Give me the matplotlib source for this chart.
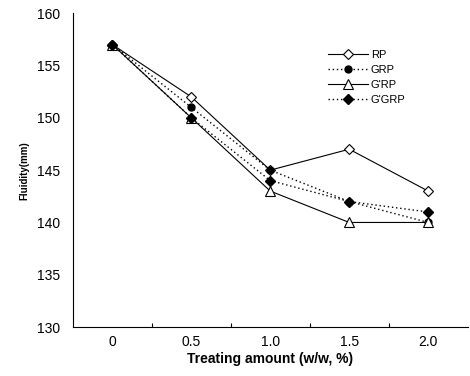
import matplotlib
matplotlib.use("Agg")
import matplotlib.pyplot as plt

categories = ["0", "0.5", "1.0", "1.5", "2.0"]
rp = [157, 152, 145, 147, 143]
grp = [157, 151, 145, 142, 140]
gprp = [157, 150, 143, 140, 140]
gpgrp = [157, 150, 144, 142, 141]

plt.rcParams['font.family'] = ['Liberation Sans', 'DejaVu Sans']
fig = plt.figure(figsize=(4.7, 3.76), dpi=100)
ax = fig.add_axes([0.155, 0.13, 0.84, 0.835])
x = list(range(len(categories)))
dot = (0, (1, 2))
ax.plot(x, rp, '-', color='black', lw=0.8, marker='D', ms=5, mfc='white', mec='black', mew=0.8, label='RP')
ax.plot(x, grp, linestyle=dot, color='black', lw=1.0, marker='o', ms=5, mfc='black', mec='black', label='GRP')
ax.plot(x, gprp, '-', color='black', lw=0.8, marker='^', ms=7, mfc='white', mec='black', mew=0.8, label="G'RP")
ax.plot(x, gpgrp, linestyle=dot, color='black', lw=1.0, marker='D', ms=5, mfc='black', mec='black', label="G'GRP")

ax.set_xlim(-0.5, 4.5)
ax.set_ylim(130, 160)
ax.set_yticks(range(130, 161, 5))
ax.set_xticks(x)
ax.set_xticklabels(categories)
ax.set_xticks([0.5, 1.5, 2.5, 3.5], minor=True)
ax.tick_params(axis='x', which='major', length=0, labelsize=10, pad=6)
ax.tick_params(axis='x', which='minor', direction='in', length=3, width=0.8)
ax.tick_params(axis='y', length=0, labelsize=10, pad=9)
for s in ['top', 'right']:
    ax.spines[s].set_visible(False)
for s in ['left', 'bottom']:
    ax.spines[s].set_linewidth(0.8)
ax.set_xlabel('Treating amount (w/w, %)', fontsize=10, fontweight='bold', labelpad=2)
ax.set_ylabel('Fluidity(mm)', fontsize=7, fontweight='bold', labelpad=6)
leg = ax.legend(loc='upper left', bbox_to_anchor=(0.62, 0.915), frameon=False, fontsize=8,
                handlelength=3.6, handletextpad=0.3, labelspacing=0.45)
fig.savefig('out.png', dpi=100)
